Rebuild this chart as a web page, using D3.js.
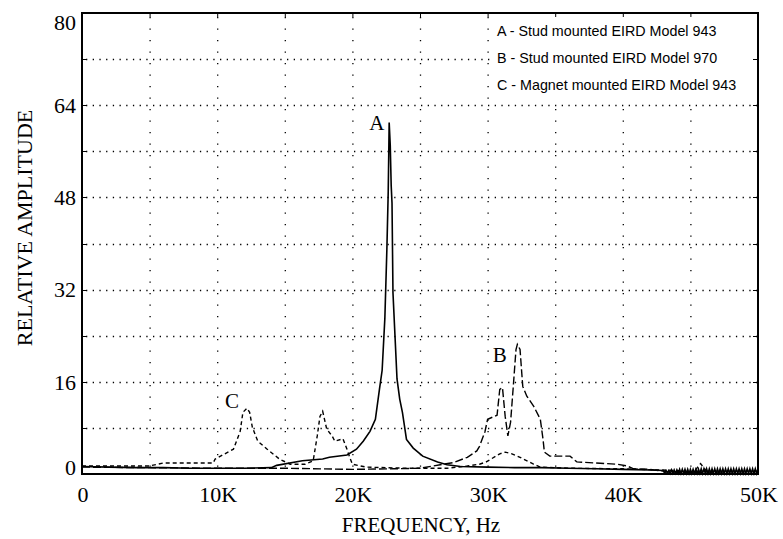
<!DOCTYPE html>
<html><head><meta charset="utf-8">
<script src="https://cdn.jsdelivr.net/npm/d3@7"></script>
<style>body{margin:0;background:#fff}svg{display:block}</style>
</head><body>
<svg id="c" width="783" height="539"></svg>
<script>
// ---- data (frequency in kHz, relative amplitude) ----
const freqA = [0,2,4,6,8,10,12,14,14.4,16.3,17.8,18.3,19.6,20.3,20.8,21.3,21.7,22.0,22.2,22.4,22.55,22.65,22.72,22.8,22.87,22.93,23.0,23.15,23.3,23.5,23.7,24.0,24.5,25.2,26.3,27.0,28.0,30.0,32.0,34.0,36.0,38.0,40.0,42.0,43.0,
  43.1,43.2,43.3,43.4,43.5,43.6,43.7,43.8,43.9,44.0,44.1,44.2,44.3,44.4,44.5,44.6,44.7,44.8,44.9,45.0,45.1,45.2,45.3,45.4,45.5,45.6,45.7,45.8,45.9,46.0,
  46.1,46.2,46.3,46.4,46.5,46.6,46.7,46.8,46.9,47.0,47.1,47.2,47.3,47.4,47.5,47.6,47.7,47.8,47.9,48.0,48.1,48.2,48.3,48.4,48.5,48.6,48.7,48.8,48.9,49.0,
  49.1,49.2,49.3,49.4,49.5,49.6,49.7,49.8,49.9,50.0];
const ampA = [1.3,1.2,1.1,1.1,1.0,1.0,1.0,1.1,1.5,2.3,2.6,2.9,3.3,4.3,5.7,7.4,9.5,14.7,18,27,39,49,61,57,50,47,31.5,24,16.5,13,10.7,6,4.5,3.1,2.1,1.6,1.3,1.2,1.1,1.1,1.0,0.9,0.8,0.7,0.6,
  0.1,0.6,0.1,0.6,0.1,0.7,0.1,0.7,0.1,0.7,0.1,0.8,0.1,0.8,0.1,0.8,0.1,0.8,0.1,0.8,0.1,0.8,0.1,0.8,0.1,0.8,0.1,0.9,0.1,0.9,
  0.1,0.9,0.1,0.9,0.1,0.9,0.1,0.9,0.1,0.9,0.1,0.9,0.1,0.9,0.1,0.9,0.1,0.9,0.1,0.9,0.1,0.9,0.1,0.9,0.1,0.9,0.1,0.9,0.1,0.9,
  0.1,0.9,0.1,0.9,0.1,0.9,0.1,0.9,0.1,0.9];

const freqB = [0,5,10,15,20,23,25,26.5,27.5,28.5,29.2,29.4,29.8,30.0,30.4,30.7,30.9,31.1,31.3,31.5,31.7,31.9,32.1,32.2,32.4,32.6,32.9,33.4,33.9,34.1,34.2,34.6,36.1,36.6,39.6,40.3,40.8,42,43,44,46,50];
const ampB  = [1.2,1.1,1.0,1.0,0.8,0.9,1.0,1.6,2.0,2.9,4.0,4.8,7.3,9.5,9.9,10.2,14.7,15,10,6.6,9,15.2,21.6,22.5,21.6,15.2,13.5,11.8,9.5,6,3.8,3.1,3.1,2.1,1.7,1.4,0.9,0.8,0.5,0.3,0.2,0.1];

const freqC = [0,5,6,9.7,9.85,11.2,11.7,11.9,12.2,12.4,12.6,13.0,13.7,14.6,15.4,16.5,17.1,17.4,17.6,17.8,18.1,18.5,18.7,19.3,19.6,19.8,20.0,21,24,27,28.5,29.4,29.9,30.9,31.3,31.8,32.4,33.4,33.9,36,40,44,45.2,45.75,46.3,48,50];
const ampC  = [1.4,1.4,1.9,1.9,2.6,4.3,7.4,10.7,11.4,10.7,8.1,5.7,4.3,2.6,1.7,1.7,2.3,6.6,10,10.9,7.8,6.6,5.7,6.1,4.3,2.9,1.7,1.2,1.0,1.0,1.4,1.7,2.1,3.5,3.8,3.5,2.9,1.7,1.2,1.0,0.9,0.6,0.2,1.8,0.2,0,0];

const xTickValues = [0,10,20,30,40,50];
const xTickLabels = ["0","10K","20K","30K","40K","50K"];
const yTickValues = [0,16,32,48,64,80];
const xGrid = [5,10,15,20,25,30,35,40,45];
const yGrid = [8,16,24,32,40,48,56,64,72];
const legendLines = ["A - Stud mounted EIRD Model 943","B - Stud mounted EIRD Model 970","C - Magnet mounted EIRD Model 943"];
const curveNames = ["A","B","C"];
const curveLabelF = [21.8, 30.9, 11.1];
const curveLabelV = [59.7, 19.4, 11.45];

// ---- layout ----
const L=82, R=758, T=13, B=474;
const x = d3.scaleLinear().domain([0,50]).range([L,R]);
const y = d3.scaleLinear().domain([0,80]).range([B,T]);
const svg = d3.select("#c");
const serif = "'Liberation Serif','Times New Roman',serif";
const sans = "'Liberation Sans',Arial,sans-serif";

// gridlines
svg.append("g").selectAll("line").data(xGrid).join("line")
  .attr("x1",d=>x(d)+0.5).attr("x2",d=>x(d)+0.5).attr("y1",T+4).attr("y2",B)
  .attr("stroke","#000").attr("stroke-width",1.3).attr("stroke-dasharray","1.3,10.2");
svg.append("g").selectAll("line").data(yGrid).join("line")
  .attr("x1",L+4).attr("x2",R).attr("y1",d=>Math.round(y(d))+0.5).attr("y2",d=>Math.round(y(d))+0.5)
  .attr("stroke","#000").attr("stroke-width",1.3).attr("stroke-dasharray","1.3,5.4");

// legend background + text
const legX = 497, legY0 = 36, legDy = 27;
svg.append("rect").attr("x",490).attr("y",T+1).attr("width",R-491).attr("height",98-T)
  .attr("fill","#fff");
svg.append("g").selectAll("text").data(legendLines).join("text")
  .attr("x",legX).attr("y",(d,i)=>legY0+i*legDy)
  .attr("font-family",sans).attr("font-size",14.3).attr("fill","#000").text(d=>d);

// curves
const line = d3.line().x(d=>x(d[0])).y(d=>y(d[1]));
const series = [
  {f:freqA, v:ampA, dash:null, w:1.6},
  {f:freqB, v:ampB, dash:"8,3", w:1.4},
  {f:freqC, v:ampC, dash:"4,3", w:1.4}
];
svg.append("g").selectAll("path").data(series).join("path")
  .attr("d",s=>line(s.f.map((f,i)=>[f,s.v[i]])))
  .attr("fill","none").attr("stroke","#000").attr("stroke-width",s=>s.w)
  .attr("stroke-dasharray",s=>s.dash);

// frame
svg.append("rect").attr("x",L).attr("y",T).attr("width",R-L).attr("height",B-T)
  .attr("fill","none").attr("stroke","#000").attr("stroke-width",2);
// frame ticks
svg.append("g").selectAll("line").data(yGrid).join("line")
  .attr("x1",R-5).attr("x2",R).attr("y1",d=>Math.round(y(d))+0.5).attr("y2",d=>Math.round(y(d))+0.5)
  .attr("stroke","#000").attr("stroke-width",1);
svg.append("g").selectAll("line").data(xGrid).join("line")
  .attr("x1",d=>x(d)+0.5).attr("x2",d=>x(d)+0.5).attr("y1",T).attr("y2",T+4)
  .attr("stroke","#000").attr("stroke-width",1);
svg.append("g").selectAll("line").data(yGrid).join("line")
  .attr("x1",L).attr("x2",L+4).attr("y1",d=>Math.round(y(d))+0.5).attr("y2",d=>Math.round(y(d))+0.5)
  .attr("stroke","#000").attr("stroke-width",1);

// tick labels
svg.append("g").selectAll("text").data(yTickValues).join("text")
  .attr("x",76).attr("y",d=>Math.min(467,Math.max(22,y(d))))
  .attr("dy","0.35em").attr("text-anchor","end")
  .attr("font-family",serif).attr("font-size",22).attr("fill","#000").text(d=>d);
svg.append("g").selectAll("text").data(xTickValues).join("text")
  .attr("x",d=>x(d)+1).attr("y",502)
  .attr("text-anchor","middle")
  .attr("font-family",serif).attr("font-size",22).attr("fill","#000").text((d,i)=>xTickLabels[i]);

// axis titles
svg.append("text").attr("transform","translate(32,228) rotate(-90)")
  .attr("text-anchor","middle").attr("font-family",serif).attr("font-size",22).text("RELATIVE AMPLITUDE");
svg.append("text").attr("x",421).attr("y",532)
  .attr("text-anchor","middle").attr("font-family",serif).attr("font-size",21).text("FREQUENCY, Hz");

// curve labels
svg.append("g").selectAll("text").data(curveNames).join("text")
  .attr("x",(d,i)=>x(curveLabelF[i])).attr("y",(d,i)=>y(curveLabelV[i]))
  .attr("text-anchor","middle").attr("font-family",serif).attr("font-size",21).text(d=>d);
</script>
</body></html>
